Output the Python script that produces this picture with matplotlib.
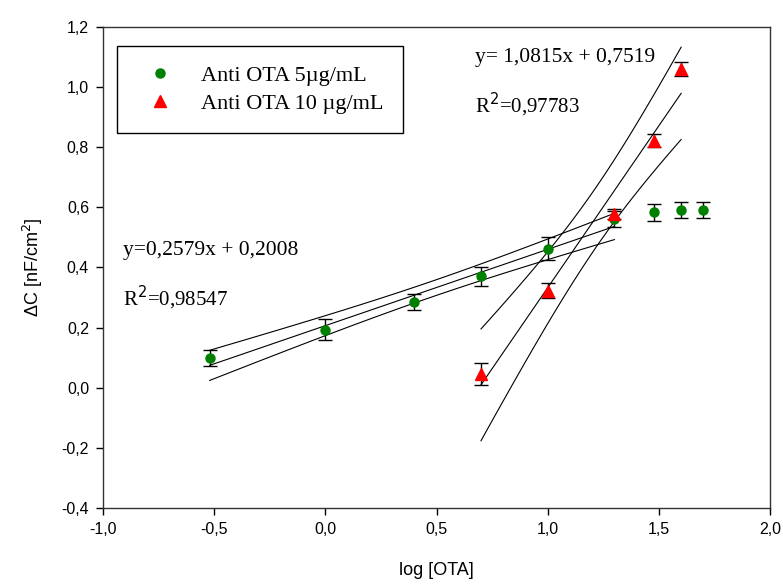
import numpy as np
import matplotlib
matplotlib.use("Agg")
import matplotlib.pyplot as plt

# dados
x_5 = [-0.52, 0.0, 0.4, 0.7, 1.0, 1.3, 1.48, 1.6, 1.7]
y_5 = [0.100, 0.193, 0.285, 0.370, 0.462, 0.560, 0.583, 0.591, 0.591]
e_5 = [0.027, 0.035, 0.026, 0.030, 0.038, 0.027, 0.028, 0.027, 0.027]
n_fit_5 = 6  # pontos usados no ajuste (ate log = 1,3)

x_10 = [0.7, 1.0, 1.3, 1.48, 1.6]
y_10 = [0.046, 0.323, 0.578, 0.821, 1.059]
e_10 = [0.036, 0.025, 0.018, 0.022, 0.023]

eq_5 = "y=0,2579x + 0,2008"
r2_5 = "0,98547"
eq_10 = "y= 1,0815x + 0,7519"
r2_10 = "0,97783"

t_95 = {3: 3.182, 4: 2.776}  # t de student, 95%


def ajuste(x, y):
    x = np.array(x)
    y = np.array(y)
    a, b = np.polyfit(x, y, 1)
    n = len(x)
    res = y - (a * x + b)
    s = np.sqrt((res ** 2).sum() / (n - 2))
    sxx = ((x - x.mean()) ** 2).sum()
    xs = np.linspace(x.min(), x.max(), 50)
    ys = a * xs + b
    h = t_95[n - 2] * s * np.sqrt(1.0 / n + (xs - x.mean()) ** 2 / sxx)
    return xs, ys, ys + h, ys - h


fig = plt.figure(figsize=(7.83, 5.84), dpi=100)
ax = fig.add_axes([0.1315, 0.130, 0.852, 0.824])

for xx, yy in [(x_5[:n_fit_5], y_5[:n_fit_5]), (x_10, y_10)]:
    xs, ys, up, lo = ajuste(xx, yy)
    for linha in (ys, up, lo):
        ax.plot(xs, linha, color="black", lw=0.8, zorder=1)

ax.errorbar(x_5, y_5, yerr=e_5, fmt="o", color="#008000", ms=6.5, ecolor="black",
            elinewidth=1, capsize=5, capthick=1, label="Anti OTA 5µg/mL", zorder=3)
ax.errorbar(x_10, y_10, yerr=e_10, fmt="^", color="#ff0000", ms=8, ecolor="black",
            elinewidth=1, capsize=5, capthick=1, label="Anti OTA 10 µg/mL", zorder=3)

ax.set_xlim(-1.0, 2.0)
ax.set_ylim(-0.4, 1.2)
ax.set_xticks(np.arange(-1.0, 2.01, 0.5))
ax.set_yticks(np.arange(-0.4, 1.21, 0.2))
ax.set_xticklabels([f"{v:.1f}".replace(".", ",") for v in np.arange(-1.0, 2.01, 0.5)])
ax.set_yticklabels([f"{v:.1f}".replace(".", ",").replace("-0,0", "0,0") for v in np.arange(-0.4, 1.21, 0.2)])
ax.tick_params(direction="out", length=5, width=1, labelsize=11.5, pad=5)
for lab in ax.get_xticklabels() + ax.get_yticklabels():
    lab.set_family("Liberation Sans")
for sp in ax.spines.values():
    sp.set_linewidth(1)
    sp.set_color("#333333")

ax.set_xlabel("log [OTA]", family="Liberation Sans", fontsize=13, labelpad=18)
ax.set_ylabel("ΔC [nF/cm$^2$]", family="Liberation Sans", fontsize=13, labelpad=12)

serif = "Liberation Serif"
ax.text(0.673, 1.099, eq_10, family=serif, fontsize=15.5, va="center")
ax.text(0.673, 0.94, "R$^2$=" + r2_10, family=serif, fontsize=15, va="center")
ax.text(-0.91, 0.458, eq_5, family=serif, fontsize=15.5, va="center")
ax.text(-0.91, 0.298, "R$^2$=" + r2_5, family=serif, fontsize=15, va="center")

handles, labels = ax.get_legend_handles_labels()
handles = [h[0] for h in handles]
leg = ax.legend(handles, labels, loc="upper left", bbox_to_anchor=(0.021, 0.96),
                borderaxespad=0, prop={"family": serif, "size": 16}, fancybox=False,
                edgecolor="black", framealpha=1, handletextpad=0.75, borderpad=0.85,
                handlelength=2.2, labelspacing=0.35)
leg.get_frame().set_linewidth(1)

plt.savefig("out.png", dpi=100)
